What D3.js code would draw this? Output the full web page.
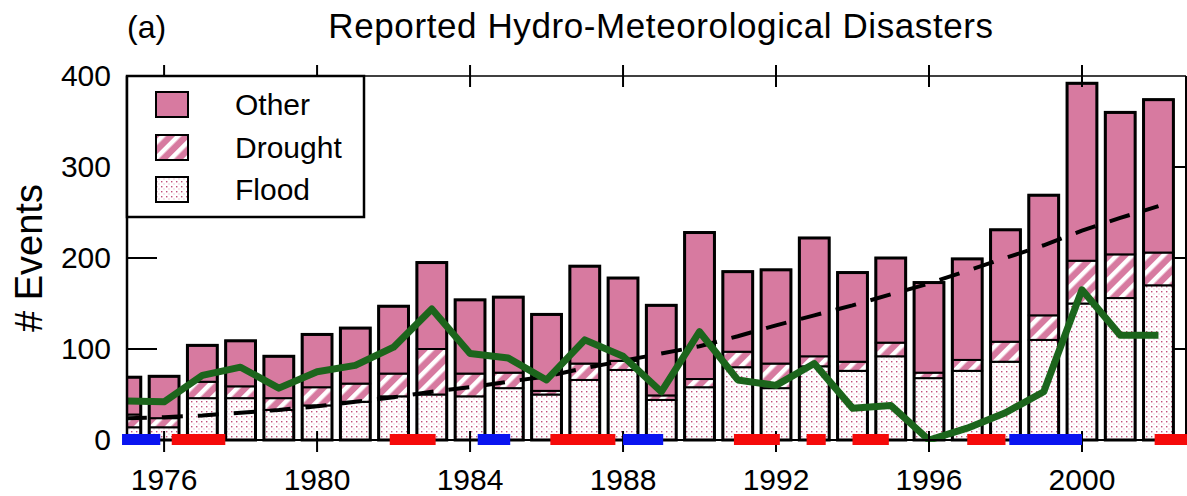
<!DOCTYPE html>
<html>
<head>
<meta charset="utf-8">
<script src="https://cdn.jsdelivr.net/npm/d3@7"></script>
<style>
  html, body { margin: 0; padding: 0; background: #fff; }
  svg { display: block; font-family: "Liberation Sans", Arial, Helvetica, sans-serif; }
</style>
</head>
<body>
<svg id="chart" width="1187" height="496"></svg>
<script>
// ---------------- data ----------------
const years   = [1975,1976,1977,1978,1979,1980,1981,1982,1983,1984,1985,1986,1987,1988,
                 1989,1990,1991,1992,1993,1994,1995,1996,1997,1998,1999,2000,2001,2002];
const flood   = [14,14,46,46,33,38,42,48,50,48,57,50,66,77,44,58,80,57,81,76,92,68,76,86,110,150,156,170];
const drought = [14,10,18,13,13,20,20,25,50,25,17,4,18,10,5,9,17,27,11,10,15,6,12,22,27,47,48,36];
const other   = [41,46,40,50,46,58,61,74,95,81,83,84,107,91,99,161,88,103,130,98,93,99,111,123,132,195,156,168];
const greenLine = [43,42,71,80,57,75,82,102,144,95,90,66,110,92,53,119,66,60,84,35,38,0,13,30,53,165,115,115];
const trendLine = [24,25,27,30,33,37,42,47,53,58,64,70,79,87,95,103,114,126,137,148,160,172,186,200,214,230,244,257];
const warmStart = [1976.2,1981.9,1986.1,1990.9,1992.8,1994.0,1997.0,2001.9];
const warmEnd   = [1977.6,1983.1,1987.8,1992.1,1993.3,1994.95,1998.0,2003.0];
const coldStart = [1974.9,1984.2,1988.0,1998.1];
const coldEnd   = [1975.9,1985.05,1989.05,2000.0];
const xTicks = [1976,1980,1984,1988,1992,1996,2000];
const yTicks = [0,100,200,300,400];
const legendLabels = ["Other","Drought","Flood"];
const title = "Reported Hydro-Meteorological Disasters";
const panel = "(a)";
const yLabel = "# Events";

// ---------------- layout ----------------
const svg = d3.select("#chart");
const L = 127, R = 1186, T = 76, B = 440;
const x = d3.scaleLinear().domain([1975.03, 2002.72]).range([L, R]);
const y = d3.scaleLinear().domain([0, 400]).range([B, T]);
const barW = x(1975.78) - x(1975);

const PINK = "#d77aa0";
const defs = svg.append("defs");
defs.append("clipPath").attr("id","plotclip").append("rect")
  .attr("x", L).attr("y", 0).attr("width", R - L).attr("height", B + 2);

// dotted flood pattern
const dp = defs.append("pattern").attr("id","dots").attr("patternUnits","userSpaceOnUse")
  .attr("width",5).attr("height",5);
dp.append("rect").attr("width",5).attr("height",5).attr("fill","#fff");
dp.append("rect").attr("x",1).attr("y",1).attr("width",1.4).attr("height",1.4).attr("fill","#c24f7c");
dp.append("rect").attr("x",3.5).attr("y",3.5).attr("width",1).attr("height",1).attr("fill","#dd93b2");

// hatched drought pattern
const hp = defs.append("pattern").attr("id","hatch").attr("patternUnits","userSpaceOnUse")
  .attr("width",11).attr("height",11).attr("patternTransform","rotate(45)");
hp.append("rect").attr("width",11).attr("height",11).attr("fill",PINK);
hp.append("rect").attr("x",0).attr("y",0).attr("width",4.5).attr("height",11).attr("fill","#fff");

// ---------------- bars ----------------
const rows = years.map((yr,i) => ({yr, f: flood[i], d: drought[i], o: other[i]}));
const plot = svg.append("g").attr("clip-path","url(#plotclip)");
const bars = plot.selectAll("g.bar").data(rows).join("g").attr("class","bar");
bars.append("rect").attr("x", d => x(d.yr) - barW/2).attr("width", barW)
  .attr("y", d => y(d.f)).attr("height", d => y(0) - y(d.f))
  .attr("fill","url(#dots)").attr("stroke","#000").attr("stroke-width",2);
bars.append("rect").attr("x", d => x(d.yr) - barW/2).attr("width", barW)
  .attr("y", d => y(d.f + d.d)).attr("height", d => y(d.f) - y(d.f + d.d))
  .attr("fill","url(#hatch)").attr("stroke","#000").attr("stroke-width",2);
bars.append("rect").attr("x", d => x(d.yr) - barW/2).attr("width", barW)
  .attr("y", d => y(d.f + d.d + d.o)).attr("height", d => y(d.f + d.d) - y(d.f + d.d + d.o))
  .attr("fill",PINK).attr("stroke","#000").attr("stroke-width",2);
bars.append("rect").attr("x", d => x(d.yr) - barW/2).attr("width", barW)
  .attr("y", d => y(d.f + d.d + d.o)).attr("height", d => y(0) - y(d.f + d.d + d.o))
  .attr("fill","none").attr("stroke","#000").attr("stroke-width",3);

// ---------------- lines ----------------
const lineGen = d3.line().x(d => x(d[0])).y(d => y(d[1]));
plot.append("path").datum(years.map((yr,i) => [yr, trendLine[i]]))
  .attr("d", lineGen).attr("fill","none").attr("stroke","#000")
  .attr("stroke-width",4).attr("stroke-dasharray","21,15");
plot.append("path").datum(years.map((yr,i) => [yr, greenLine[i]]))
  .attr("d", lineGen).attr("fill","none").attr("stroke","#1c651c")
  .attr("stroke-width",7).attr("stroke-linejoin","round");

// ---------------- axes ----------------
const ax = svg.append("g").attr("stroke","#000");
ax.append("line").attr("x1",L).attr("x2",R).attr("y1",B).attr("y2",B).attr("stroke-width",2);
ax.append("line").attr("x1",L).attr("x2",R).attr("y1",T).attr("y2",T).attr("stroke-width",1.5);
ax.append("line").attr("x1",L).attr("x2",L).attr("y1",T).attr("y2",B).attr("stroke-width",2.5);
ax.append("line").attr("x1",R).attr("x2",R).attr("y1",T).attr("y2",B).attr("stroke-width",2);
ax.selectAll("line.xt").data(xTicks).join("line").attr("class","xt")
  .attr("x1", d => x(d)).attr("x2", d => x(d)).attr("y1", B - 9).attr("y2", B + 12).attr("stroke-width",2);
ax.selectAll("line.xtt").data(xTicks).join("line").attr("class","xtt")
  .attr("x1", d => x(d)).attr("x2", d => x(d)).attr("y1", T - 11).attr("y2", T + 11).attr("stroke-width",2);
ax.selectAll("line.yt").data(yTicks.slice(1,4)).join("line").attr("class","yt")
  .attr("x1", L).attr("x2", L + 30).attr("y1", d => y(d)).attr("y2", d => y(d)).attr("stroke-width",2);
ax.selectAll("line.ytr").data(yTicks.slice(1,4)).join("line").attr("class","ytr")
  .attr("x1", R - 14).attr("x2", R).attr("y1", d => y(d)).attr("y2", d => y(d)).attr("stroke-width",2);

// ENSO segments
const seg = svg.append("g");
seg.selectAll("rect.w").data(warmStart.map((s,i) => [s, warmEnd[i]])).join("rect").attr("class","w")
  .attr("x", d => x(d[0])).attr("width", d => x(d[1]) - x(d[0]))
  .attr("y", B - 6).attr("height", 11).attr("fill","#f50a0a");
seg.selectAll("rect.c").data(coldStart.map((s,i) => [s, coldEnd[i]])).join("rect").attr("class","c")
  .attr("x", d => x(d[0])).attr("width", d => x(d[1]) - x(d[0]))
  .attr("y", B - 6).attr("height", 11).attr("fill","#0a14f0");

// tick labels
svg.selectAll("text.xl").data(xTicks).join("text").attr("class","xl")
  .attr("x", d => x(d)).attr("y", 490).attr("text-anchor","middle")
  .attr("font-size",30).text(d => d);
svg.selectAll("text.yl").data(yTicks).join("text").attr("class","yl")
  .attr("x", 111).attr("y", d => y(d) + 10).attr("text-anchor","end")
  .attr("font-size",30).text(d => d);

// axis title + titles
svg.append("text").attr("transform","translate(42,258) rotate(-90)")
  .attr("text-anchor","middle").attr("font-size",38).text(yLabel);
svg.append("text").attr("x",127).attr("y",38).attr("font-size",32).text(panel);
svg.append("text").attr("x",661).attr("y",38).attr("text-anchor","middle")
  .attr("font-size",35).attr("letter-spacing",0.6).text(title);

// ---------------- legend ----------------
const lg = svg.append("g");
lg.append("rect").attr("x",L).attr("y",T).attr("width",364 - L).attr("height",217 - T)
  .attr("fill","#fff").attr("stroke","#000").attr("stroke-width",2.5);
const fills = [PINK, "url(#hatch)", "url(#dots)"];
const ly = [92, 135, 177];
legendLabels.forEach((lab,i) => {
  lg.append("rect").attr("x",156).attr("y",ly[i]).attr("width",32).attr("height",25)
    .attr("fill",fills[i]).attr("stroke","#000").attr("stroke-width",2);
  lg.append("text").attr("x",235).attr("y",ly[i] + 23).attr("font-size",30).text(lab);
});
</script>
</body>
</html>
